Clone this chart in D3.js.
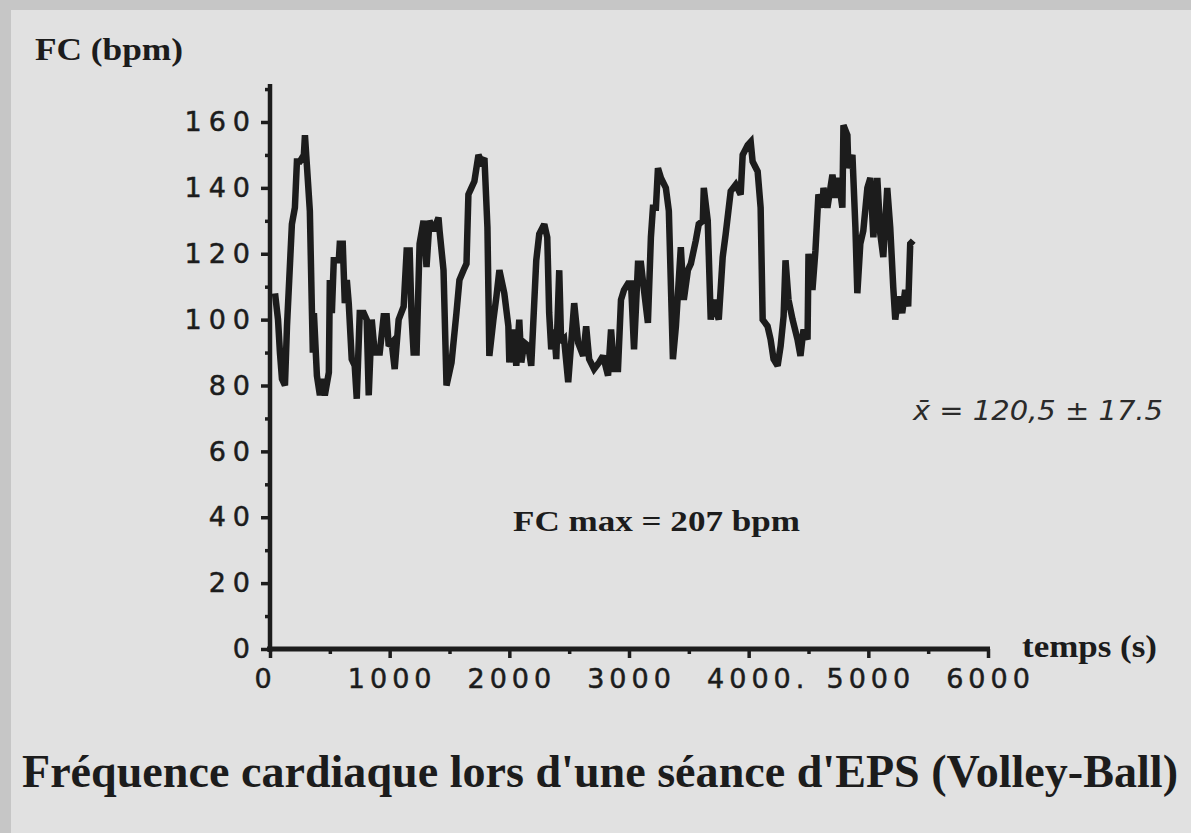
<!DOCTYPE html>
<html>
<head>
<meta charset="utf-8">
<script src="https://cdn.jsdelivr.net/npm/d3@7"></script>
<style>
  body { margin: 0; background: #c6c6c6; }
  svg { display: block; }
</style>
</head>
<body>
<div id="chart"></div>
<script>
// heart rate trace (time in s, FC in bpm)
var timeSec = [42, 67, 83, 100, 125, 142, 183, 208, 225, 250, 283, 292, 308, 333, 350, 358, 367, 392, 417, 433,
  458, 492, 500, 517, 533, 575, 583, 608, 625, 642, 658, 683, 708, 725, 750, 783, 808, 825, 850, 875,
  917, 950, 975, 992, 1017, 1042, 1075, 1117, 1142, 1167, 1183, 1200, 1225, 1250, 1283, 1308, 1333, 1367, 1408, 1417,
  1450, 1475, 1517, 1558, 1583, 1617, 1642, 1658, 1683, 1708, 1742, 1767, 1792, 1817, 1833, 1867, 1892, 1917, 1958, 1992,
  2000, 2033, 2058, 2083, 2100, 2125, 2158, 2183, 2225, 2250, 2292, 2317, 2333, 2350, 2375, 2392, 2417, 2433, 2458, 2492,
  2517, 2542, 2575, 2617, 2642, 2667, 2708, 2750, 2783, 2825, 2850, 2875, 2908, 2933, 2958, 2992, 3017, 3042, 3075, 3100,
  3125, 3158, 3183, 3200, 3225, 3242, 3267, 3308, 3333, 3367, 3392, 3433, 3458, 3492, 3517, 3558, 3583, 3617, 3625, 3658,
  3683, 3708, 3750, 3783, 3808, 3850, 3892, 3933, 3950, 3992, 4017, 4033, 4075, 4100, 4117, 4158, 4183, 4208, 4242, 4267,
  4292, 4308, 4333, 4367, 4408, 4433, 4458, 4492, 4500, 4533, 4558, 4583, 4617, 4625, 4658, 4700, 4725, 4750, 4783, 4792,
  4825, 4833, 4867, 4892, 4908, 4933, 4958, 4992, 5017, 5042, 5075, 5100, 5125, 5158, 5183, 5208, 5225, 5250, 5283, 5308,
  5333, 5350, 5375];
var fcBpm = [108, 100, 90, 82, 80, 98, 129, 134, 148, 148, 150, 156, 147, 133, 103, 90, 102, 83, 77, 82,
  77, 84, 112, 102, 118, 118, 123, 123, 105, 112, 105, 88, 86, 76, 102, 102, 100, 77, 100, 90,
  90, 101, 101, 92, 93, 85, 100, 104, 121, 121, 101, 90, 90, 123, 130, 116, 130, 127, 131, 127,
  115, 80, 87, 102, 112, 115, 117, 138, 140, 142, 150, 148, 149, 128, 89, 100, 107, 115, 108, 98,
  87, 97, 86, 100, 87, 93, 92, 86, 118, 126, 129, 125, 102, 91, 97, 88, 115, 93, 94, 81,
  93, 105, 93, 89, 98, 88, 85, 87, 89, 83, 97, 85, 85, 106, 109, 111, 111, 91, 117, 117,
  109, 99, 125, 134, 134, 146, 143, 140, 133, 88, 98, 122, 106, 115, 117, 124, 129, 130, 140, 130,
  100, 106, 100, 119, 126, 139, 141, 138, 150, 153, 154, 148, 145, 134, 100, 98, 94, 88, 86, 92,
  101, 118, 106, 100, 94, 89, 97, 94, 120, 109, 121, 138, 134, 140, 134, 144, 137, 143, 134, 159,
  156, 146, 150, 128, 108, 123, 127, 140, 143, 125, 143, 126, 119, 140, 128, 110, 100, 107, 102, 109,
  104, 123, 124];

var xMajor = [0, 1000, 2000, 3000, 4000, 5000, 6000];
var xLabels = ['0', '1000', '2000', '3000', '4000.', '5000', '6000'];
var xMinor = [500, 1500, 2500, 3500, 4500, 5500];
var yMajor = [0, 20, 40, 60, 80, 100, 120, 140, 160];
var yMinor = [10, 30, 50, 70, 90, 110, 130, 150, 170];

var svgWidth = 1191;
var svgHeight = 833;
var ink = '#1c1c1c';
var tickFont = "'DejaVu Sans', Verdana, sans-serif";
var serif = "'Liberation Serif', 'Times New Roman', serif";

var svg = d3
  .select('#chart')
  .append('svg')
  .attr('width', svgWidth)
  .attr('height', svgHeight);

// paper of the scan, grey frame shows on top and left
svg
  .append('rect')
  .attr('x', 11)
  .attr('y', 10)
  .attr('width', svgWidth - 11)
  .attr('height', svgHeight - 10)
  .attr('fill', '#e1e1e1');

var x = d3.scaleLinear().domain([0, 6000]).range([270, 988]);
var y = d3.scaleLinear().domain([0, 160]).range([649, 122]);

// y axis
var yAxisMajor = d3
  .axisLeft(y)
  .tickValues(yMajor)
  .tickSize(9)
  .tickSizeOuter(0)
  .tickPadding(9);

var yAxisG = svg.append('g').attr('transform', `translate(${x(0)}, 0)`).call(yAxisMajor);
yAxisG.select('.domain').remove();

var yAxisMinor = d3.axisLeft(y).tickValues(yMinor).tickSize(5).tickFormat('');
var yMinorG = svg.append('g').attr('transform', `translate(${x(0)}, 0)`).call(yAxisMinor);
yMinorG.select('.domain').remove();

// x axis
var xAxisMajor = d3
  .axisBottom(x)
  .tickValues(xMajor)
  .tickSize(9)
  .tickSizeOuter(0)
  .tickPadding(14)
  .tickFormat((d, i) => xLabels[i]);

var xAxisG = svg.append('g').attr('transform', `translate(0, ${y(0)})`).call(xAxisMajor);
xAxisG.select('.domain').remove();

var xAxisMinor = d3.axisBottom(x).tickValues(xMinor).tickSize(5).tickFormat('');
var xMinorG = svg.append('g').attr('transform', `translate(0, ${y(0)})`).call(xAxisMinor);
xMinorG.select('.domain').remove();

svg.selectAll('.tick line').attr('stroke', ink).attr('stroke-width', 3.5);
svg
  .selectAll('.tick text')
  .attr('fill', ink)
  .attr('stroke', ink)
  .attr('stroke-width', 0.5)
  .style('font-family', tickFont)
  .style('font-size', '27px')
  .style('letter-spacing', '7px');

// letter-spacing adds a trailing gap, pull labels back
yAxisG.selectAll('.tick text').attr('dx', 5);
xAxisG
  .selectAll('.tick text')
  .style('letter-spacing', '5px')
  .attr('dx', (d) => (d === 4000 ? 9 : d === 0 ? -5 : 2))
  .attr('dy', '0.6em');

// thick axis lines
svg
  .append('line')
  .attr('x1', x(0))
  .attr('x2', x(0))
  .attr('y1', y(0) + 3)
  .attr('y2', y(171.5))
  .attr('stroke', ink)
  .attr('stroke-width', 4.5);

svg
  .append('line')
  .attr('x1', x(0) - 3)
  .attr('x2', x(6000) + 2)
  .attr('y1', y(0))
  .attr('y2', y(0))
  .attr('stroke', ink)
  .attr('stroke-width', 5);

// the heart rate trace
var points = timeSec.map((t, i) => [t, fcBpm[i]]);
var line = d3
  .line()
  .x((d) => x(d[0]))
  .y((d) => y(d[1]));

svg
  .append('path')
  .datum(points)
  .attr('d', line)
  .attr('fill', 'none')
  .attr('stroke', ink)
  .attr('stroke-width', 6.5)
  .attr('stroke-linejoin', 'miter')
  .attr('stroke-miterlimit', 2.5);

// labels
function label(txt, px, py, size, len) {
  return svg
    .append('text')
    .attr('x', px)
    .attr('y', py)
    .attr('fill', ink)
    .attr('textLength', len)
    .attr('lengthAdjust', 'spacingAndGlyphs')
    .style('font-family', serif)
    .style('font-weight', 'bold')
    .style('font-size', size + 'px')
    .text(txt);
}

label('FC (bpm)', 35, 60, 31, 148);
label('temps (s)', 1022, 657, 31, 135);
label('FC max = 207 bpm', 513, 531, 30, 287);
label("Fréquence cardiaque lors d'une séance d'EPS (Volley-Ball)", 22, 787, 46, 1156);

// handwritten mean note
svg
  .append('text')
  .attr('x', 913)
  .attr('y', 420)
  .attr('fill', '#2a2a2a')
  .attr('textLength', 250)
  .attr('lengthAdjust', 'spacingAndGlyphs')
  .style('font-family', tickFont)
  .style('font-weight', 200)
  .style('font-style', 'italic')
  .style('font-size', '26px')
  .text('x\u0304 = 120,5 ± 17.5');
</script>
</body>
</html>
